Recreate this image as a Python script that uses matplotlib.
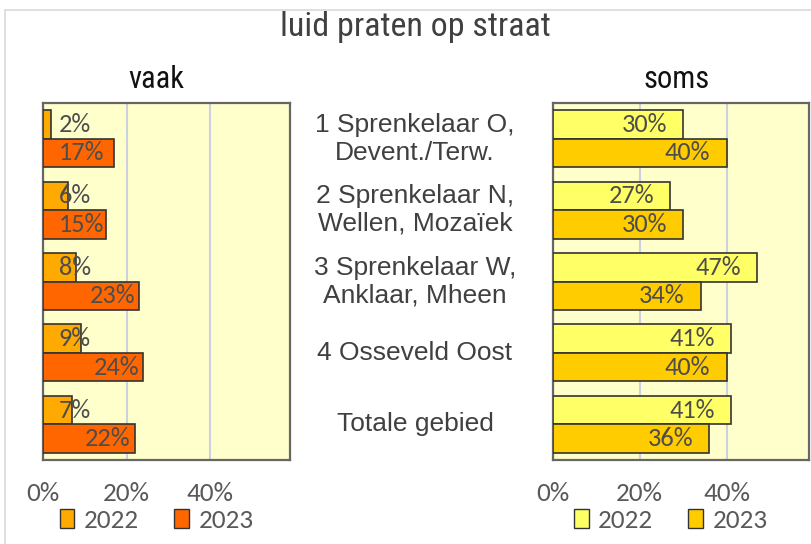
import matplotlib
matplotlib.use("Agg")
import matplotlib.pyplot as plt
import matplotlib.transforms as mtransforms
from matplotlib.patches import Rectangle, Patch
import numpy as np

title = "luid praten op straat"
categories = ["1 Sprenkelaar O,\nDevent./Terw.",
              "2 Sprenkelaar N,\nWellen, Mozaïek",
              "3 Sprenkelaar W,\nAnklaar, Mheen",
              "4 Osseveld Oost",
              "Totale gebied"]
years = ["2022", "2023"]
vaak_2022 = [2, 6, 8, 9, 7]
vaak_2023 = [17, 15, 23, 24, 22]
soms_2022 = [30, 27, 47, 41, 41]
soms_2023 = [40, 30, 34, 40, 36]
xticks = [0, 20, 40]

calibri = ["Carlito", "Lato", "DejaVu Sans"]
narrow = ["Roboto Condensed", "Fira Sans Condensed", "PT Sans Narrow",
          "Liberation Sans Narrow", "Liberation Sans"]
arial = ["Liberation Sans", "Arimo", "DejaVu Sans"]

fig = plt.figure(figsize=(8.11, 5.44), dpi=100)
W, H = 811, 544

# light outer frame
fig.patches.append(Rectangle((5 / W, -0.1), 1.2, 1 - 10 / H + 0.1, transform=fig.transFigure,
                             fill=False, edgecolor="#d9d9d9", linewidth=1.2))

axL = fig.add_axes([43 / W, 1 - 460 / H, 247 / W, 357 / H])
axR = fig.add_axes([553 / W, 1 - 460 / H, 256 / W, 357 / H])

y = np.arange(len(categories))
h = 0.4
gray = "#595959"


def draw(ax, v22, v23, c22, c23, name, name_x, label_mode):
    ax.set_facecolor("#ffffcc")
    ax.barh(y - h / 2, v22, height=h, color=c22, edgecolor="#333333", linewidth=1.2, zorder=3)
    ax.barh(y + h / 2, v23, height=h, color=c23, edgecolor="#333333", linewidth=1.2, zorder=3)
    ax.set_xlim(0, 59)
    ax.set_ylim(len(categories) - 0.5, -0.5)
    ax.set_xticks(xticks)
    ax.set_xticklabels([f"{t}%" for t in xticks])
    ax.set_yticks([])
    ax.tick_params(axis="x", length=0, pad=16, labelsize=19.5, labelcolor=gray)
    for lab in ax.get_xticklabels():
        lab.set_family(calibri)
    ax.grid(axis="x", color="#ccd0e0", linewidth=1.5, zorder=0)
    for s in ax.spines.values():
        s.set_color("#666666")
        s.set_linewidth(1.6)
    for i in range(len(categories)):
        for off, v in ((-h / 2, v22[i]), (h / 2, v23[i])):
            if label_mode == "left" and v < 20:
                ax.text(3.8, i + off, f"{v}%", ha="left", va="center", fontsize=19,
                        color="#4d4d4d", family=calibri, zorder=4)
            elif label_mode == "left":
                ax.text(v - 1.0, i + off, f"{v}%", ha="right", va="center", fontsize=19,
                        color="#4d4d4d", family=calibri, zorder=4)
            else:
                ax.text(v - 3.7, i + off, f"{v}%", ha="right", va="center", fontsize=19,
                        color="#4d4d4d", family=calibri, zorder=4)
    handles = [Patch(facecolor=c22, edgecolor="#333333"), Patch(facecolor=c23, edgecolor="#333333")]
    leg = ax.legend(handles, years, loc="center", bbox_to_anchor=(0.46, -0.17), ncol=2,
                    frameon=False, handlelength=0.55, handleheight=0.7,
                    handletextpad=0.35, columnspacing=1.3,
                    prop={"family": calibri, "size": 19.5})
    for t in leg.get_texts():
        t.set_color(gray)
    ax.set_title(name, fontsize=22, family=narrow, color="#111111", pad=11, x=name_x)


draw(axL, vaak_2022, vaak_2023, "#ffaa00", "#ff6600", "vaak", 0.457, "left")
draw(axR, soms_2022, soms_2023, "#ffff66", "#ffcc00", "soms", 0.484, "right")

trans = mtransforms.blended_transform_factory(fig.transFigure, axL.transData)
for i, c in enumerate(categories):
    fig.text(415 / W, i, c, transform=trans, ha="center", va="center", fontsize=19,
             family=arial, color="#404040", linespacing=1.2)

fig.text(415 / W, 1 - 27 / H, title, ha="center", va="center", fontsize=24.5,
         family=narrow, color="#404040")

fig.savefig("out.png", dpi=100)
